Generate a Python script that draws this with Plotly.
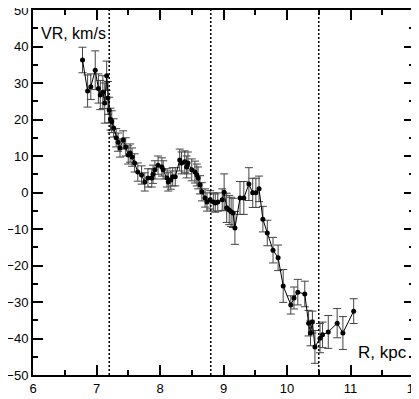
import plotly.graph_objects as go

R = [6.78, 6.86, 6.91, 6.98, 7.03, 7.06, 7.10, 7.13, 7.16, 7.18,
     7.20, 7.22, 7.24, 7.27, 7.31, 7.34, 7.37, 7.42, 7.46, 7.50,
     7.53, 7.56, 7.60, 7.65, 7.71, 7.76, 7.81, 7.87, 7.89, 7.92,
     7.97, 8.03, 8.05, 8.11, 8.13, 8.17, 8.20, 8.24, 8.31, 8.34,
     8.39, 8.42, 8.44, 8.50, 8.55, 8.58, 8.60, 8.63, 8.66, 8.71,
     8.74, 8.79, 8.84, 8.87, 8.91, 8.98, 9.01, 9.05, 9.09, 9.12,
     9.15, 9.18, 9.26, 9.32, 9.40, 9.46, 9.51, 9.56, 9.62, 9.69,
     9.78, 9.86, 9.94, 10.06, 10.11, 10.17, 10.28, 10.34, 10.37, 10.40,
     10.44, 10.52, 10.56, 10.65, 10.79, 10.88, 11.05]
VR = [36.3, 27.8, 29.0, 33.5, 28.5, 26.7, 27.5, 24.5, 32.0, 25.9,
      22.6, 20.1, 19.4, 17.7, 15.0, 13.8, 12.2, 14.4, 12.5, 10.3,
      10.8, 9.7, 8.1, 5.6, 4.8, 2.9, 4.0, 4.0, 5.0, 6.2,
      7.5, 7.0, 6.2, 4.0, 2.9, 3.4, 4.3, 4.3, 8.9, 8.1,
      8.4, 7.0, 8.1, 6.2, 5.6, 4.8, 4.0, 2.1, 0.2, -1.5,
      -2.6, -2.0, -2.6, -2.9, -2.6, -2.0, 0.1, -4.2, -4.8, -5.3,
      -5.6, -9.7, -1.5, -1.5, 2.3, -0.1, -0.1, 1.0, -7.3, -11.1,
      -15.8, -17.9, -25.6, -30.8, -28.9, -27.3, -27.8, -35.8, -38.5, -35.5,
      -42.3, -39.9, -39.0, -38.2, -35.8, -38.5, -32.5]
ERR = [3.5, 4.4, 3.5, 5.3, 4.0, 4.0, 4.5, 5.5, 4.0, 4.5,
       3.5, 3.0, 3.0, 2.5, 2.5, 2.5, 2.5, 2.5, 2.5, 2.5,
       2.5, 2.5, 2.5, 2.5, 2.5, 2.5, 2.5, 2.5, 2.5, 2.5,
       2.5, 2.5, 2.5, 2.5, 2.5, 2.5, 2.5, 2.5, 3.0, 3.0,
       3.0, 3.0, 3.0, 3.0, 3.0, 3.0, 3.0, 2.5, 2.5, 2.5,
       2.5, 2.5, 2.5, 2.5, 2.5, 3.0, 5.0, 4.0, 4.0, 4.0,
       4.0, 4.5, 4.5, 4.5, 4.5, 4.0, 4.0, 3.5, 3.5, 3.5,
       3.5, 3.5, 4.5, 2.5, 3.0, 3.5, 3.5, 3.5, 3.5, 3.0,
       4.5, 4.0, 3.5, 4.5, 4.0, 4.5, 3.4]
BOUNDARIES = [7.2, 8.8, 10.5]

FONT = "Liberation Sans, Arial"

fig = go.Figure()
fig.add_trace(go.Scatter(
    x=R, y=VR, mode="lines+markers",
    line=dict(color="black", width=1),
    marker=dict(color="black", size=5),
    error_y=dict(type="data", array=ERR, visible=True,
                 color="#444444", thickness=1, width=4),
    showlegend=False,
))
for b in BOUNDARIES:
    fig.add_shape(type="line", x0=b, x1=b, y0=0, y1=1, xref="x", yref="paper",
                  line=dict(color="black", width=1.5, dash="2px,2px"))

fig.add_annotation(x=0.016, y=43.7, xref="paper", yref="y", text="VR, km/s",
                   showarrow=False, xanchor="left", yanchor="middle",
                   font=dict(family=FONT, size=16, color="black"))
fig.add_annotation(x=0.988, y=-43.7, xref="paper", yref="y", text="R, kpc",
                   showarrow=False, xanchor="right", yanchor="middle",
                   font=dict(family=FONT, size=17, color="black"))

axis_common = dict(showgrid=False, zeroline=False, showline=True, linecolor="black",
                   linewidth=2, mirror="ticks", ticks="inside", ticklen=10,
                   tickwidth=1.5, tickcolor="black", automargin=False,
                   ticklabeloverflow="allow",
                   tickfont=dict(family=FONT, size=13, color="black"))
fig.update_xaxes(range=[6, 12], dtick=1, tick0=6,
                 minor=dict(dtick=0.5, ticks="inside", ticklen=5, tickwidth=1.5, tickcolor="black"),
                 **axis_common)
fig.update_yaxes(range=[-50, 50], dtick=10, tick0=0,
                 minor=dict(dtick=5, ticks="inside", ticklen=5, tickwidth=1.5, tickcolor="black"),
                 **axis_common)
fig.update_layout(template="none", width=419, height=399,
                  margin=dict(l=25, r=13, t=2, b=32, pad=0),
                  plot_bgcolor="white", paper_bgcolor="white",
                  font=dict(family=FONT, color="black"))
fig.write_html("out.html")
